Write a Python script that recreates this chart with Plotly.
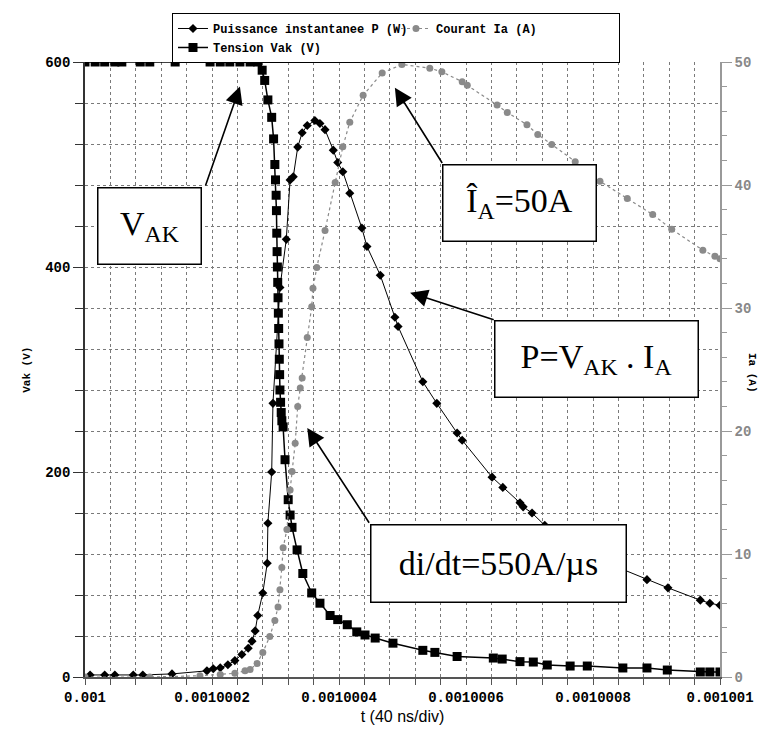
import plotly.graph_objects as go

# time offsets in ns after t0 = 0.001 s
T0 = 1e-3

P_NS = [8, 31, 47, 76, 91, 137, 192, 202, 213, 225, 236, 247, 257, 263, 268, 272, 280, 287, 288, 294, 296,
        307, 317, 323, 328, 335, 342, 350, 362, 370, 378, 391, 398, 406, 417, 436, 444, 465, 488, 493,
        532, 554, 586, 594, 641, 658, 685, 690, 704, 724, 764, 827, 885, 918, 969, 984, 1000]
P_W = [2, 2, 2, 2, 2, 3, 6, 8, 9, 12, 16, 22, 28, 35, 45, 60, 82, 111, 150, 200, 267,
       380, 427, 485, 488, 517, 531, 538, 543, 540, 534, 514, 502, 493, 472, 438, 420, 392, 351, 342,
       288, 267, 238, 231, 195, 185, 170, 166, 160, 148, 128, 110, 95, 87, 75, 72, 70]

IA_NS = [0, 102, 181, 213, 236, 252, 260, 271, 280, 291, 299, 304, 307, 310, 312, 318, 323, 326, 331,
         335, 339, 342, 350, 357, 359, 365, 378, 394, 406, 417, 438, 468, 499, 543, 562, 594, 602,
         649, 665, 696, 713, 735, 772, 811, 854, 894, 924, 973, 992, 1000]
IA_A = [0, 0, 0.1, 0.2, 0.3, 0.5, 0.6, 1.1, 2.0, 3.3, 4.6, 5.7, 7.1, 8.9, 10.5, 12.0, 15.2, 16.7, 19.0,
        22.0, 23.5, 24.3, 27.6, 30.1, 31.6, 33.3, 36.3, 40.2, 43.1, 45.1, 47.3, 49.1, 49.8, 49.5, 49.2, 48.4, 48.1,
        46.5, 45.9, 44.9, 44.1, 43.3, 41.9, 40.3, 38.9, 37.6, 36.4, 34.7, 34.2, 34.0]

VAK_NS = [0, 16, 31, 47, 58, 87, 102, 142, 197, 213, 228, 244, 260, 272, 279, 283, 288, 294, 297, 299,
          300, 301, 301.5, 302, 302.5, 303, 303.5, 304, 304.5, 305, 305.5, 306, 306.5, 307, 308, 309,
          310, 312, 315, 320, 323, 326, 334, 343, 357, 370, 386, 398, 413, 428, 441, 457, 485, 532, 551,
          586, 643, 657, 685, 706, 728, 764, 791, 847, 885, 917, 969, 984, 1000]
VAK_V = [600, 600, 600, 600, 600, 600, 600, 600, 600, 600, 600, 600, 600, 600, 592, 582, 563, 546, 525, 500,
         485, 470, 455, 433, 415, 400, 385, 370, 355, 340, 325, 310, 295, 280, 268, 258,
         250, 244, 212, 173, 158, 146, 124, 101, 82, 72, 60, 56, 51, 44, 41, 38, 33, 26, 24,
         20, 18.5, 17.5, 15, 14.6, 11.7, 10.7, 10.7, 8.8, 8.8, 6.8, 4.9, 4.9, 4.9]

X_TICK_LABELS = ["0.001", "0.0010002", "0.0010004", "0.0010006", "0.0010008", "0.001001"]


def t(ns_list):
    return [T0 + v * 1e-9 for v in ns_list]


fig = go.Figure()

fig.add_trace(go.Scatter(
    x=t(P_NS), y=P_W, mode="lines+markers", name="Puissance instantanee P (W)",
    line=dict(color="black", width=1),
    marker=dict(symbol="diamond", size=7, color="black"),
))
fig.add_trace(go.Scatter(
    x=t(IA_NS), y=IA_A, mode="lines+markers", name="Courant Ia (A)", yaxis="y2",
    line=dict(color="#8a8a8a", width=1.2, dash="dot"),
    marker=dict(symbol="circle", size=7, color="#8a8a8a"),
))
fig.add_trace(go.Scatter(
    x=t(VAK_NS), y=VAK_V, mode="lines+markers", name="Tension Vak (V)",
    line=dict(color="black", width=1.5),
    marker=dict(symbol="square", size=9, color="black"),
))

tickfont = dict(family="Liberation Mono", size=14, color="black", weight="bold")
gridc = "#7a7a7a"

# page body has an 8px margin, so the figure is sized to fit the 771x733 window
fig.update_layout(
    width=763, height=725,
    margin=dict(l=77, r=51, t=54, b=56, autoexpand=False),
    paper_bgcolor="white", plot_bgcolor="white",
    showlegend=True,
    legend=dict(
        x=0.137, y=1.0797, xanchor="left", yanchor="top",
        orientation="h", entrywidth=178, entrywidthmode="pixels",
        itemwidth=30,
        bordercolor="black", borderwidth=1, bgcolor="white",
        font=dict(family="Liberation Mono", size=12, color="black", weight="bold"),
        tracegroupgap=0,
    ),
    xaxis=dict(
        range=[T0, T0 + 1000e-9],
        tickvals=t([0, 200, 400, 600, 800, 1000]), ticktext=X_TICK_LABELS,
        showgrid=True, gridcolor=gridc, griddash="dot", gridwidth=1,
        minor=dict(dtick=40e-9, tick0=T0, showgrid=True, gridcolor=gridc, griddash="dot",
                   ticks="outside", ticklen=6, tickcolor="#555"),
        ticks="outside", ticklen=6, tickcolor="#555",
        showline=True, linecolor="#555", linewidth=1.5,
        zeroline=False, tickfont=tickfont,
        title=dict(text="t (40 ns/div)", font=dict(family="Liberation Sans", size=16, color="black"), standoff=6),
    ),
    yaxis=dict(
        range=[0, 600], dtick=200, tick0=0,
        showgrid=True, gridcolor=gridc, griddash="dot", gridwidth=1,
        minor=dict(dtick=40, showgrid=True, gridcolor=gridc, griddash="dot",
                   ticks="outside", ticklen=8, tickcolor="#333"),
        ticks="outside", ticklen=10, tickcolor="#333",
        showline=True, linecolor="#333", linewidth=1.5,
        zeroline=False, tickfont=tickfont,
    ),
    yaxis2=dict(
        range=[0, 50], dtick=10, overlaying="y", side="right",
        showgrid=False,
        minor=dict(dtick=2, ticks="outside", ticklen=5, tickcolor="#999"),
        ticks="outside", ticklen=10, tickcolor="#999",
        showline=True, linecolor="#999", linewidth=1.5,
        zeroline=False,
        tickfont=dict(family="Liberation Mono", size=14, color="#888", weight="bold"),
    ),
)

# axis titles
fig.add_annotation(text="Vak (V)", xref="paper", yref="paper", x=-0.105, y=0.5, textangle=-90,
                   showarrow=False, font=dict(family="Liberation Mono", size=11, color="black", weight="bold"))
fig.add_annotation(text="Ia (A)", xref="paper", yref="paper", x=1.064, y=0.495, textangle=90,
                   showarrow=False, font=dict(family="Liberation Mono", size=11, color="black", weight="bold"))

boxfont = dict(family="Liberation Serif", size=34, color="black")
arrow_style = dict(showarrow=True, arrowhead=2, arrowsize=2.2, arrowwidth=1.6, arrowcolor="black",
                   axref="x", ayref="y", xref="x", yref="y", text="")

# arrows (tip x,y ; tail ax,ay)
fig.add_annotation(x=T0 + 244e-9, y=576, ax=T0 + 189e-9, ay=478, **arrow_style)
fig.add_annotation(x=T0 + 488e-9, y=575, ax=T0 + 564e-9, ay=500, **arrow_style)
fig.add_annotation(x=T0 + 512e-9, y=375, ax=T0 + 646e-9, ay=348, **arrow_style)
fig.add_annotation(x=T0 + 350e-9, y=243, ax=T0 + 449e-9, ay=149, **arrow_style)

box_style = dict(showarrow=False, xref="x", yref="y", bgcolor="white", bordercolor="black",
                 borderwidth=1.5, font=boxfont)
fig.add_annotation(text="V<sub>AK</sub>", x=T0 + 102e-9, y=440, width=100, height=73, **box_style)
fig.add_annotation(text="Î<sub>A</sub>=50A", x=T0 + 685e-9, y=462, width=150, height=73, **box_style)
fig.add_annotation(text="P=V<sub>AK</sub> . I<sub>A</sub>", x=T0 + 805e-9, y=310, width=200, height=73, **box_style)
fig.add_annotation(text="di/dt=550A/µs", x=T0 + 651e-9, y=111, width=252, height=74, **box_style)

fig.write_html("out.html")
